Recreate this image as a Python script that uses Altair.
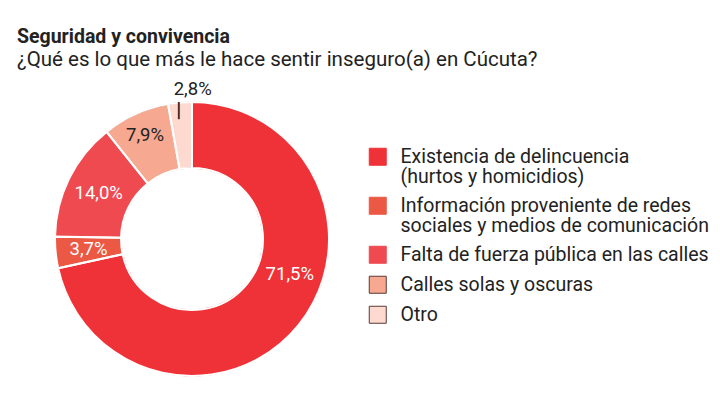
import altair as alt
import pandas as pd

CATEGORIES = [
    "Existencia de delincuencia\n(hurtos y homicidios)",
    "Información proveniente de redes\nsociales y medios de comunicación",
    "Falta de fuerza pública en las calles",
    "Calles solas y oscuras",
    "Otro",
]
VALUES = [71.5, 3.7, 14.0, 7.9, 2.8]
COLORS = ["#EF3237", "#EB5844", "#EE4A50", "#F6A891", "#FDD9CF"]
OUTLINES = ["#EF3237", "#EB5844", "#EE4A50", "#5A3A34", "#5A3A34"]

TITLE = "Seguridad y convivencia"
SUBTITLE = "¿Qué es lo que más le hace sentir inseguro(a) en Cúcuta?"

FONT = "Roboto"
DARK = "#222222"
OUTER_R = 137
INNER_R = 71


def legend_params() -> alt.Legend:
    """Shared legend look for the fill and stroke channels, so they merge."""
    return alt.Legend(
        title=None,
        orient="none",
        legendX=351,
        legendY=53,
        symbolType="square",
        symbolSize=289,
        symbolStrokeWidth=1,
        labelFontSize=19.5,
        labelFont=FONT,
        labelColor=DARK,
        labelLimit=0,
        labelOffset=13,
        rowPadding=8,
        labelExpr="split(datum.label, '\\n')",
    )


df = pd.DataFrame({
    "idx": range(len(CATEGORIES)),
    "categoria": CATEGORIES,
    "valor": VALUES,
    "etiqueta": [f"{v:.1f}".replace(".", ",") + "%" for v in VALUES],
})

base = alt.Chart(df).transform_window(
    cum="sum(valor)", sort=[alt.SortField("idx")]
).transform_calculate(mid="datum.cum - datum.valor / 2")

color = alt.Color(
    "categoria:N",
    scale=alt.Scale(domain=CATEGORIES, range=COLORS),
    legend=legend_params(),
)
stroke = alt.Stroke(
    "categoria:N",
    scale=alt.Scale(domain=CATEGORIES, range=OUTLINES),
    legend=legend_params(),
)

arcs = alt.Chart(df).mark_arc(radius=OUTER_R, radius2=INNER_R, strokeWidth=1).encode(
    theta=alt.Theta("valor:Q", stack=True),
    order=alt.Order("idx:Q"),
    color=color,
    stroke=stroke,
)

# white separators drawn over the outlined slices
borders = alt.Chart(df).mark_arc(
    radius=OUTER_R, radius2=INNER_R, filled=False, stroke="white", strokeWidth=2
).encode(
    theta=alt.Theta("valor:Q", stack=True),
    order=alt.Order("idx:Q"),
)

text_style = dict(font=FONT, fontSize=18.5)

big_label = base.transform_filter("datum.idx == 0").mark_text(
    radius=104, thetaOffset=-0.33, color="white", **text_style
).encode(theta=alt.Theta("mid:Q", stack=None), text="etiqueta:N")

white_labels = base.transform_filter("datum.idx == 1 || datum.idx == 2").mark_text(
    radius=104, color="white", **text_style
).encode(theta=alt.Theta("mid:Q", stack=None), text="etiqueta:N")

dark_label = base.transform_filter("datum.idx == 3").mark_text(
    radius=114, color=DARK, **text_style
).encode(theta=alt.Theta("mid:Q", stack=None), text="etiqueta:N")

outside_label = base.transform_filter("datum.idx == 4").mark_text(
    radius=151, dx=14, color=DARK, **text_style
).encode(theta=alt.Theta("mid:Q", stack=None), text="etiqueta:N")

tick = base.transform_filter("datum.idx == 4").mark_text(
    radius=128, dx=-2, color=DARK, font=FONT, fontSize=20, fontWeight="bold", text="|"
).encode(theta=alt.Theta("mid:Q", stack=None))

chart = alt.layer(
    arcs, borders, big_label, white_labels, dark_label, outside_label, tick
).properties(
    width=350,
    height=290,
    padding={"left": 9, "top": 18, "right": 0, "bottom": 5},
    title=alt.TitleParams(
        TITLE,
        subtitle=SUBTITLE,
        anchor="start",
        font=FONT,
        fontSize=19.5,
        fontWeight="bold",
        color=DARK,
        subtitleFont=FONT,
        subtitleFontSize=20.5,
        subtitleColor=DARK,
        subtitlePadding=3,
        offset=8,
    ),
).configure_view(stroke=None).configure(
    font=FONT, style={"guide-label": {"lineHeight": 20}}
)

chart.save("out.html", embed_options={"renderer": "svg", "actions": False})
